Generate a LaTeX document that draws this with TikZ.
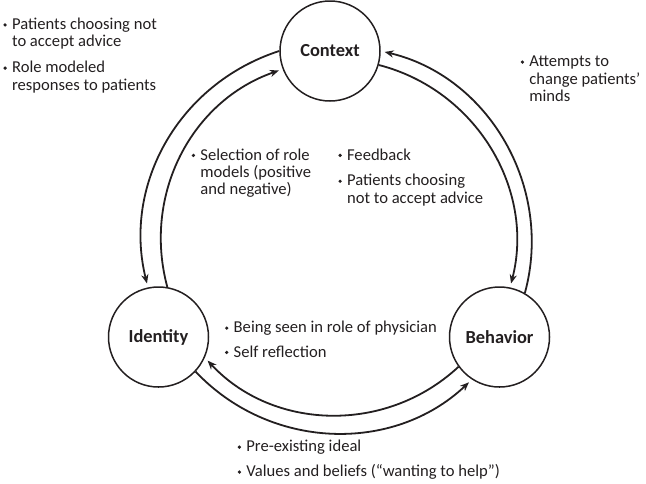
\documentclass[tikz,border=0pt]{standalone}
\usepackage{fontspec}
\setmainfont{Carlito}
\usepackage{xcolor}
\definecolor{inkgray}{RGB}{35,31,32}
\usepackage{tikz}
\usetikzlibrary{arrows.meta}
\newcommand{\itm}{\makebox[4.5pt][l]{\hspace{0.1pt}\tikz[baseline]\fill[inkgray] (0.9pt,2.3pt) circle (0.9pt);}}
\tikzset{
    stage/.style={draw=inkgray, circle, line width=0.75pt, minimum size=50pt, inner sep=0pt,
        font=\fontsize{9.2}{11}\selectfont\bfseries, text=inkgray},
    note/.style={anchor=base west, inner sep=0pt, font=\fontsize{8.3}{8.65}\selectfont, text=inkgray},
    cyclearc/.style={draw=inkgray, line width=0.9pt, -{Stealth[length=4.5pt,width=3.6pt]}, shorten >=2pt}
}

\begin{document}
\begin{tikzpicture}[x=0.5pt,y=0.5pt]
    \useasboundingbox (0,0) rectangle (646,-483);

    \path
        (330,-51) node[stage] (ctx) {Context}
        to ++(-171.5,-286) node[stage] (idn) {Identity}
        to ++(341,0) node[stage] (beh) {Behavior};

    % outer ring
    \draw[cyclearc] (beh.60) to[bend right=46] (ctx.0);
    \draw[cyclearc] (ctx.180) to[bend right=43] (idn.102);
    \draw[cyclearc] (idn.-43) to[bend right=45] (beh.237);
    % inner ring
    \draw[cyclearc] (ctx.-16) to[bend left=45] (beh.78);
    \draw[cyclearc] (idn.80) to[bend left=43] (ctx.201);
    \draw[cyclearc] (beh.216) to[bend left=45] (idn.-24);

    \node[note] (ctx-out) at (2.7,-29.5) {\begin{tabular}[t]{@{}l@{}l@{}}
        \itm & Patients choosing not\\ & to accept advice\\[4.3pt]
        \itm & Role modeled\\ & responses to patients\end{tabular}};
    \node[note] (ctx-beh) at (520,-66.7) {\begin{tabular}[t]{@{}l@{}l@{}}
        \itm & Attempts to\\ & change patients’\\ & minds\end{tabular}};
    \node[note] (idn-ctx) at (191,-160) {\begin{tabular}[t]{@{}l@{}l@{}}
        \itm & Selection of role\\ & models (positive\\ & and negative)\end{tabular}};
    \node[note] (ctx-in) at (337.7,-160) {\begin{tabular}[t]{@{}l@{}l@{}}
        \itm & Feedback\\[4.3pt]
        \itm & Patients choosing\\ & not to accept advice\end{tabular}};
    \node[note] (beh-idn) at (224.3,-332.7) {\begin{tabular}[t]{@{}l@{}l@{}}
        \itm & Being seen in role of physician\\[3.5pt]
        \itm & Self reflection\end{tabular}};
    \node[note] (idn-beh) at (237,-451.7) {\begin{tabular}[t]{@{}l@{}l@{}}
        \itm & Pre-existing ideal\\[3.8pt]
        \itm & Values and beliefs (“wanting to help”)\end{tabular}};
\end{tikzpicture}
\end{document}
